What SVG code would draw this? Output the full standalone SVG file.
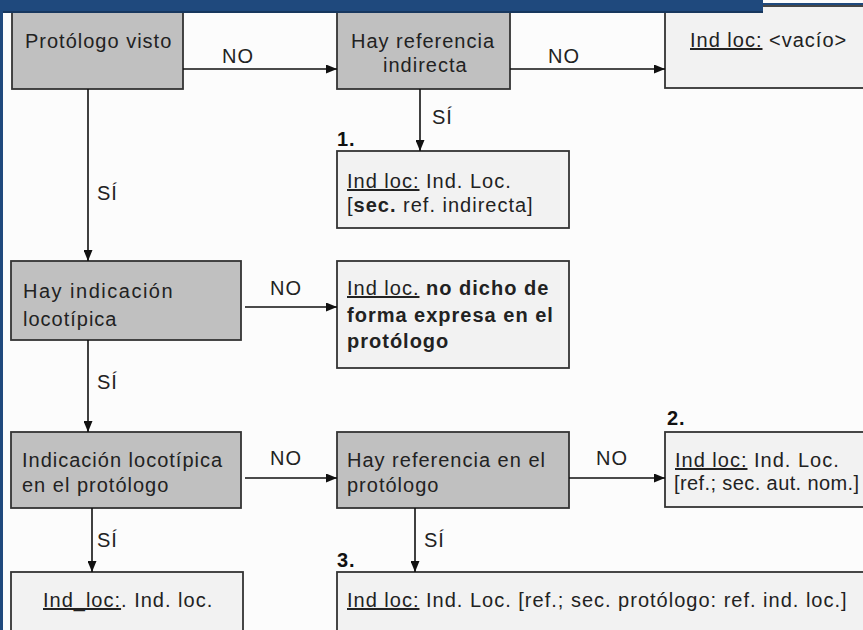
<svg xmlns="http://www.w3.org/2000/svg" width="863" height="630" viewBox="0 0 863 630">
<defs>
<marker id="ah" markerUnits="userSpaceOnUse" markerWidth="11" markerHeight="9" refX="11" refY="4.5" orient="auto">
<path d="M0,0 L11,4.5 L0,9 z" fill="#111"/>
</marker>
<style>
.dark{fill:#c0c0c0;stroke:#333;stroke-width:1.8}
.light{fill:#f2f2f2;stroke:#333;stroke-width:1.8}
text{font-family:"Liberation Sans",Arial,sans-serif;font-size:20px;fill:#222;letter-spacing:1px}
.b{font-weight:bold}
.u{text-decoration:underline}
.lbl{font-size:20px}
.num{font-weight:bold;font-size:20px;fill:#111}
.con{stroke:#111;stroke-width:1.6;fill:none;marker-end:url(#ah)}
</style>
</defs>
<rect x="0" y="0" width="863" height="630" fill="#fcfcfc"/>

<g id="n1">
<rect class="dark" x="12" y="6" width="171" height="83"/>
<text x="25" y="48">Protólogo visto</text>
</g>
<g id="n2">
<rect class="dark" x="337" y="6" width="173" height="83"/>
<text x="351" y="48">Hay referencia</text>
<text x="383" y="72">indirecta</text>
</g>
<g id="n3">
<rect class="light" x="665" y="6" width="210" height="82"/>
<text x="690" y="47"><tspan class="u">Ind loc:</tspan> &lt;vacío&gt;</text>
</g>
<g id="n4">
<text class="num" x="337" y="146">1.</text>
<rect class="light" x="337" y="151" width="232" height="77"/>
<text x="347" y="188"><tspan class="u">Ind loc:</tspan> Ind. Loc.</text>
<text x="347" y="212">[<tspan class="b">sec.</tspan> ref. indirecta]</text>
</g>
<g id="n5">
<rect class="dark" x="11" y="261" width="230" height="79"/>
<text x="23" y="298" style="letter-spacing:1.5px">Hay indicación</text>
<text x="23" y="326">locotípica</text>
</g>
<g id="n6">
<rect class="light" x="337" y="261" width="232" height="107"/>
<text x="347" y="295"><tspan class="u">Ind loc.</tspan> <tspan class="b">no dicho de</tspan></text>
<text x="347" y="322" class="b">forma expresa en el</text>
<text x="347" y="348" class="b">protólogo</text>
</g>
<g id="n7">
<rect class="dark" x="11" y="432" width="230" height="76"/>
<text x="22" y="467">Indicación locotípica</text>
<text x="22" y="492">en el protólogo</text>
</g>
<g id="n8">
<rect class="dark" x="337" y="432" width="232" height="76"/>
<text x="347" y="467">Hay referencia en el</text>
<text x="347" y="492">protólogo</text>
</g>
<g id="n9">
<text class="num" x="667" y="425">2.</text>
<rect class="light" x="665" y="432" width="210" height="75"/>
<text x="675" y="467"><tspan class="u">Ind loc:</tspan> Ind. Loc.</text>
<text x="674" y="490" style="letter-spacing:0.4px">[ref.; sec. aut. nom.]</text>
</g>
<g id="n10">
<rect class="light" x="11" y="572" width="232" height="70"/>
<text x="43" y="607"><tspan class="u">Ind_loc:</tspan>. Ind. loc.</text>
</g>
<g id="n11">
<text class="num" x="337" y="567">3.</text>
<rect class="light" x="337" y="572" width="540" height="70"/>
<text x="347" y="607"><tspan class="u">Ind loc:</tspan> Ind. Loc. [ref.; sec. protólogo: ref. ind. loc.]</text>
</g>

<g id="connectors">
<path class="con" d="M183,69 H337"/>
<path class="con" d="M510,69 H665"/>
<path class="con" d="M420,89 V151"/>
<path class="con" d="M88,89 V261"/>
<path class="con" d="M245,307 H337"/>
<path class="con" d="M88,340 V432"/>
<path class="con" d="M245,478 H337"/>
<path class="con" d="M569,478 H665"/>
<path class="con" d="M92,508 V572"/>
<path class="con" d="M415,508 V572"/>
<text class="lbl" x="222" y="63">NO</text>
<text class="lbl" x="548" y="63">NO</text>
<text class="lbl" x="432" y="124">SÍ</text>
<text class="lbl" x="97" y="200">SÍ</text>
<text class="lbl" x="270" y="295">NO</text>
<text class="lbl" x="97" y="389">SÍ</text>
<text class="lbl" x="270" y="465">NO</text>
<text class="lbl" x="596" y="465">NO</text>
<text class="lbl" x="97" y="547">SÍ</text>
<text class="lbl" x="424" y="547">SÍ</text>
</g>

<rect x="0" y="0" width="763" height="12" fill="#1f497d"/>
<rect x="0" y="11" width="763" height="2" fill="#17375e"/>
<rect x="763" y="3" width="100" height="2" fill="#1f497d"/>
<rect x="0" y="0" width="3" height="630" fill="#1f497d"/>
</svg>
